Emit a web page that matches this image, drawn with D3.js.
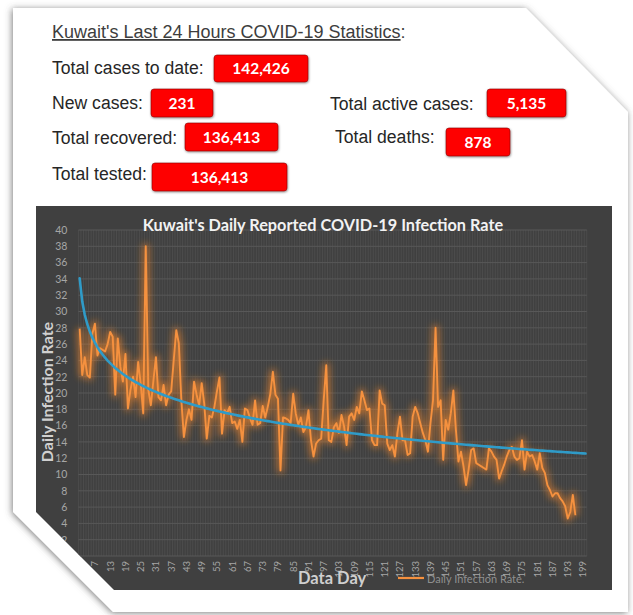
<!DOCTYPE html>
<html>
<head>
<meta charset="utf-8">
<script src="https://cdn.jsdelivr.net/npm/d3@7"></script>
<style>
  html, body { margin: 0; padding: 0; background: #ffffff; }
  svg { display: block; }
</style>
</head>
<body>
<svg id="chart" width="633" height="615"></svg>
<script>
// ---------------- data ----------------
const statLabels = ["Total cases to date:", "New cases:", "Total recovered:", "Total tested:", "Total active cases:", "Total deaths:"];
const statValues = ["142,426", "231", "136,413", "136,413", "5,135", "878"];

const chartTitle = "Kuwait's Daily Reported COVID-19 Infection Rate";
const yAxisTitle = "Daily Infection Rate";
const xAxisTitle = "Data Day";
const seriesName = "Daily Infection Rate.";

// category axis: data days 1..200
const categories = d3.range(1, 201).map(String);
const xTickLabels = categories.filter((d, i) => i % 6 === 0);   // 1, 7, 13, ... 199
const yTickValues = d3.range(0, 41, 2);

// daily infection rate (%), days 1..196
const dailyRate = [
  27.9, 22.2, 24.4, 22.2, 21.9, 27.3, 28.5, 24.6, 25.5, 25.3,
  25.1, 26.0, 27.5, 26.9, 19.8, 26.7, 23.2, 21.4, 24.8, 18.1,
  20.4, 22.0, 19.5, 23.8, 21.2, 17.5, 38.0, 20.4, 18.5, 21.5,
  24.4, 19.5, 19.1, 21.0, 18.5, 19.8, 20.2, 24.0, 27.7, 26.1,
  19.1, 14.6, 16.7, 18.0, 16.7, 21.4, 19.8, 18.5, 21.2, 18.7,
  14.4, 17.2, 17.0, 18.3, 20.2, 21.9, 15.0, 17.9, 17.5, 18.3,
  16.3, 16.5, 15.6, 16.7, 14.0, 18.1, 17.9, 16.9, 16.1, 19.1,
  16.1, 16.3, 18.4, 17.0, 18.3, 19.9, 22.6, 19.8, 19.3, 10.5,
  17.0, 16.9, 16.7, 16.3, 19.9, 17.5, 16.1, 17.0, 15.2, 15.8,
  17.9, 14.2, 12.2, 13.8, 14.2, 14.4, 19.1, 23.4, 14.2, 14.0,
  15.8,
  16.3, 15.1, 17.3, 15.9, 13.6, 17.1, 17.5, 16.7, 18.3, 17.5,
  20.2, 19.1, 17.9, 18.1, 14.2, 13.6, 13.6, 20.3, 18.7, 18.5,
  13.8, 13.0, 13.6, 12.2, 15.1, 17.1, 14.2, 14.2, 12.4, 12.6,
  17.1, 18.3, 17.5, 16.3, 15.1, 14.2, 12.8, 16.3, 19.1, 28.0,
  18.3, 19.1, 11.8, 16.7, 15.5, 17.5, 20.3, 15.5, 11.6, 12.8,
  11.0, 8.7, 10.6, 13.0, 13.2, 11.4, 11.2, 11.0, 10.8, 10.6,
  13.2, 12.8, 12.2, 11.8, 9.5, 10.4, 11.2, 12.2, 13.0, 13.4,
  12.2, 11.8, 12.0, 14.2, 10.6, 12.8, 12.2, 12.4, 11.6, 10.6,
  12.6, 10.8, 10.2, 8.7, 8.1, 7.3, 7.7, 7.7, 7.1, 6.7,
  6.1, 4.6, 5.4, 7.5, 5.0
];

// ---------------- drawing ----------------
const svg = d3.select("#chart");
const defs = svg.append("defs");

const shadow = defs.append("filter").attr("id", "cardShadow")
  .attr("x", "-10%").attr("y", "-10%").attr("width", "120%").attr("height", "120%");
shadow.append("feDropShadow").attr("dx", -1).attr("dy", 1).attr("stdDeviation", 3.5)
  .attr("flood-color", "#555").attr("flood-opacity", 0.75);

const glow = defs.append("filter").attr("id", "glow")
  .attr("x", "-5%").attr("y", "-20%").attr("width", "110%").attr("height", "140%");
glow.append("feGaussianBlur").attr("stdDeviation", 3.5);

const boxShadow = defs.append("filter").attr("id", "boxShadow")
  .attr("x", "-10%").attr("y", "-20%").attr("width", "120%").attr("height", "150%");
boxShadow.append("feDropShadow").attr("dx", 0.5).attr("dy", 1).attr("stdDeviation", 0.8)
  .attr("flood-color", "#000").attr("flood-opacity", 0.45);

// card with cut corners
const cardPts = [[13, 8], [526, 8], [628, 112], [628, 612], [113, 612], [13, 512]];
svg.append("path")
  .attr("d", d3.line()(cardPts) + "Z")
  .attr("fill", "#ffffff")
  .attr("filter", "url(#cardShadow)");

// ---------- statistics block ----------
const head = svg.append("g").attr("font-family", "'Liberation Sans', Arial, sans-serif").attr("fill", "#262626");
const headTitle = head.append("text").attr("x", 52).attr("y", 38).attr("font-size", 18).attr("fill", "#3d3d3d");
headTitle.append("tspan").attr("text-decoration", "underline").text("Kuwait's Last 24 Hours COVID-19 Statistics");
headTitle.append("tspan").text(":");

// layout of label/value pairs
const statLayout = [
  { lx: 52,  ly: 74,  bx: 214, by: 55,  bw: 94,  bh: 27 },
  { lx: 52,  ly: 109, bx: 151, by: 89,  bw: 62,  bh: 28 },
  { lx: 52,  ly: 144, bx: 185, by: 123, bw: 93,  bh: 28 },
  { lx: 52,  ly: 180, bx: 152, by: 163, bw: 135, bh: 28 },
  { lx: 330, ly: 110, bx: 487, by: 89,  bw: 79,  bh: 28 },
  { lx: 335, ly: 143, bx: 446, by: 128, bw: 64,  bh: 28 }
];
statLabels.forEach((lab, i) => {
  const L = statLayout[i];
  head.append("text").attr("x", L.lx).attr("y", L.ly).attr("font-size", 17.6).text(lab);
  head.append("rect").attr("x", L.bx).attr("y", L.by).attr("width", L.bw).attr("height", L.bh)
    .attr("rx", 3).attr("fill", "#fe0000").attr("stroke", "#8a1010").attr("stroke-width", 0.6)
    .attr("filter", "url(#boxShadow)");
  head.append("text").attr("x", L.bx + L.bw / 2).attr("y", L.by + L.bh / 2 + 5.5)
    .attr("text-anchor", "middle").attr("font-family", "Lato, 'Open Sans', sans-serif")
    .attr("font-weight", 700).attr("font-size", 15.5).attr("fill", "#ffffff").text(statValues[i]);
});

// ---------- chart ----------
const chartPts = [[36, 206], [612, 206], [612, 590], [114, 590], [36, 512]];
defs.append("clipPath").attr("id", "chartClip").append("path").attr("d", d3.line()(chartPts) + "Z");

const chart = svg.append("g").attr("clip-path", "url(#chartClip)")
  .attr("font-family", "Lato, 'Open Sans', sans-serif");
chart.append("rect").attr("x", 30).attr("y", 200).attr("width", 590).attr("height", 400).attr("fill", "#404040");

const x = d3.scaleBand().domain(categories).range([78.4, 586.8]).padding(0);
const y = d3.scaleLinear().domain([0, 40]).range([556, 230]);
const cx = d => x(String(d)) + x.bandwidth() / 2;

// gridlines
chart.append("g").selectAll("line").data(categories).join("line")
  .attr("x1", d => x(d)).attr("x2", d => x(d)).attr("y1", y(40)).attr("y2", y(0))
  .attr("stroke", "#4f4f4f").attr("stroke-width", 0.8);
chart.append("line").attr("x1", x.range()[1]).attr("x2", x.range()[1]).attr("y1", y(40)).attr("y2", y(0))
  .attr("stroke", "#4f4f4f").attr("stroke-width", 0.8);
chart.append("g").selectAll("line").data(yTickValues).join("line")
  .attr("x1", x.range()[0]).attr("x2", x.range()[1]).attr("y1", d => y(d)).attr("y2", d => y(d))
  .attr("stroke", "#585858").attr("stroke-width", 1);

// axes
const yAxis = chart.append("g").attr("transform", `translate(${x.range()[0]},0)`)
  .call(d3.axisLeft(y).tickValues(yTickValues).tickSize(0).tickPadding(11));
yAxis.select(".domain").remove();
yAxis.selectAll("text").attr("fill", "#a6a6a6").attr("font-size", 10.5).attr("font-family", "Lato, 'Open Sans', sans-serif");

const xAxis = chart.append("g").attr("transform", `translate(0,${y(0)})`)
  .call(d3.axisBottom(x).tickValues(xTickLabels).tickSize(0).tickPadding(0));
xAxis.select(".domain").remove();
xAxis.selectAll("text")
  .attr("fill", "#a6a6a6").attr("font-size", 9.5).attr("font-family", "Lato, 'Open Sans', sans-serif")
  .attr("transform", "rotate(-90)").attr("text-anchor", "end")
  .attr("x", -5).attr("y", 0).attr("dy", "0.35em");

// series
const dataPts = dailyRate.map((v, i) => [i + 1, v]);
const line = d3.line().x(d => cx(d[0])).y(d => y(d[1]));
chart.append("path").datum(dataPts).attr("d", line)
  .attr("fill", "none").attr("stroke", "#ff8a2a").attr("stroke-width", 6).attr("stroke-opacity", 0.6)
  .attr("stroke-linejoin", "round").attr("filter", "url(#glow)");
chart.append("path").datum(dataPts).attr("d", line)
  .attr("fill", "none").attr("stroke", "#f5913f").attr("stroke-width", 1.9).attr("stroke-linejoin", "round");

// logarithmic trendline fitted to the data (least squares on ln(day))
const lx = dataPts.map(d => Math.log(d[0]));
const mx = d3.mean(lx), my = d3.mean(dataPts, d => d[1]);
const slope = d3.sum(dataPts, (d, i) => (lx[i] - mx) * (d[1] - my)) / d3.sum(lx, v => (v - mx) * (v - mx));
const icpt = my - slope * mx;
const trendPts = categories.map(c => [+c, icpt + slope * Math.log(+c)]);
chart.append("path").datum(trendPts).attr("d", line)
  .attr("fill", "none").attr("stroke", "#2f9bc8").attr("stroke-width", 2.6).attr("stroke-linecap", "round");

// titles
chart.append("text").attr("x", 323).attr("y", 231).attr("text-anchor", "middle")
  .attr("font-weight", 700).attr("font-size", 16.3).attr("fill", "#f2f2f2").text(chartTitle);
chart.append("text").attr("transform", "translate(53,392) rotate(-90)").attr("text-anchor", "middle")
  .attr("font-weight", 700).attr("font-size", 16).attr("fill", "#d0d0d0").text(yAxisTitle);
chart.append("text").attr("x", 298).attr("y", 584)
  .attr("font-weight", 700).attr("font-size", 16.5).attr("fill", "#cfcfcf").text(xAxisTitle);

// legend
chart.append("line").attr("x1", 398).attr("x2", 424).attr("y1", 578).attr("y2", 578)
  .attr("stroke", "#f5913f").attr("stroke-width", 2.2);
chart.append("text").attr("x", 427).attr("y", 583).attr("font-size", 11)
  .attr("fill", "#9a9a9a").attr("fill-opacity", 0.9).text(seriesName);
</script>
</body>
</html>
